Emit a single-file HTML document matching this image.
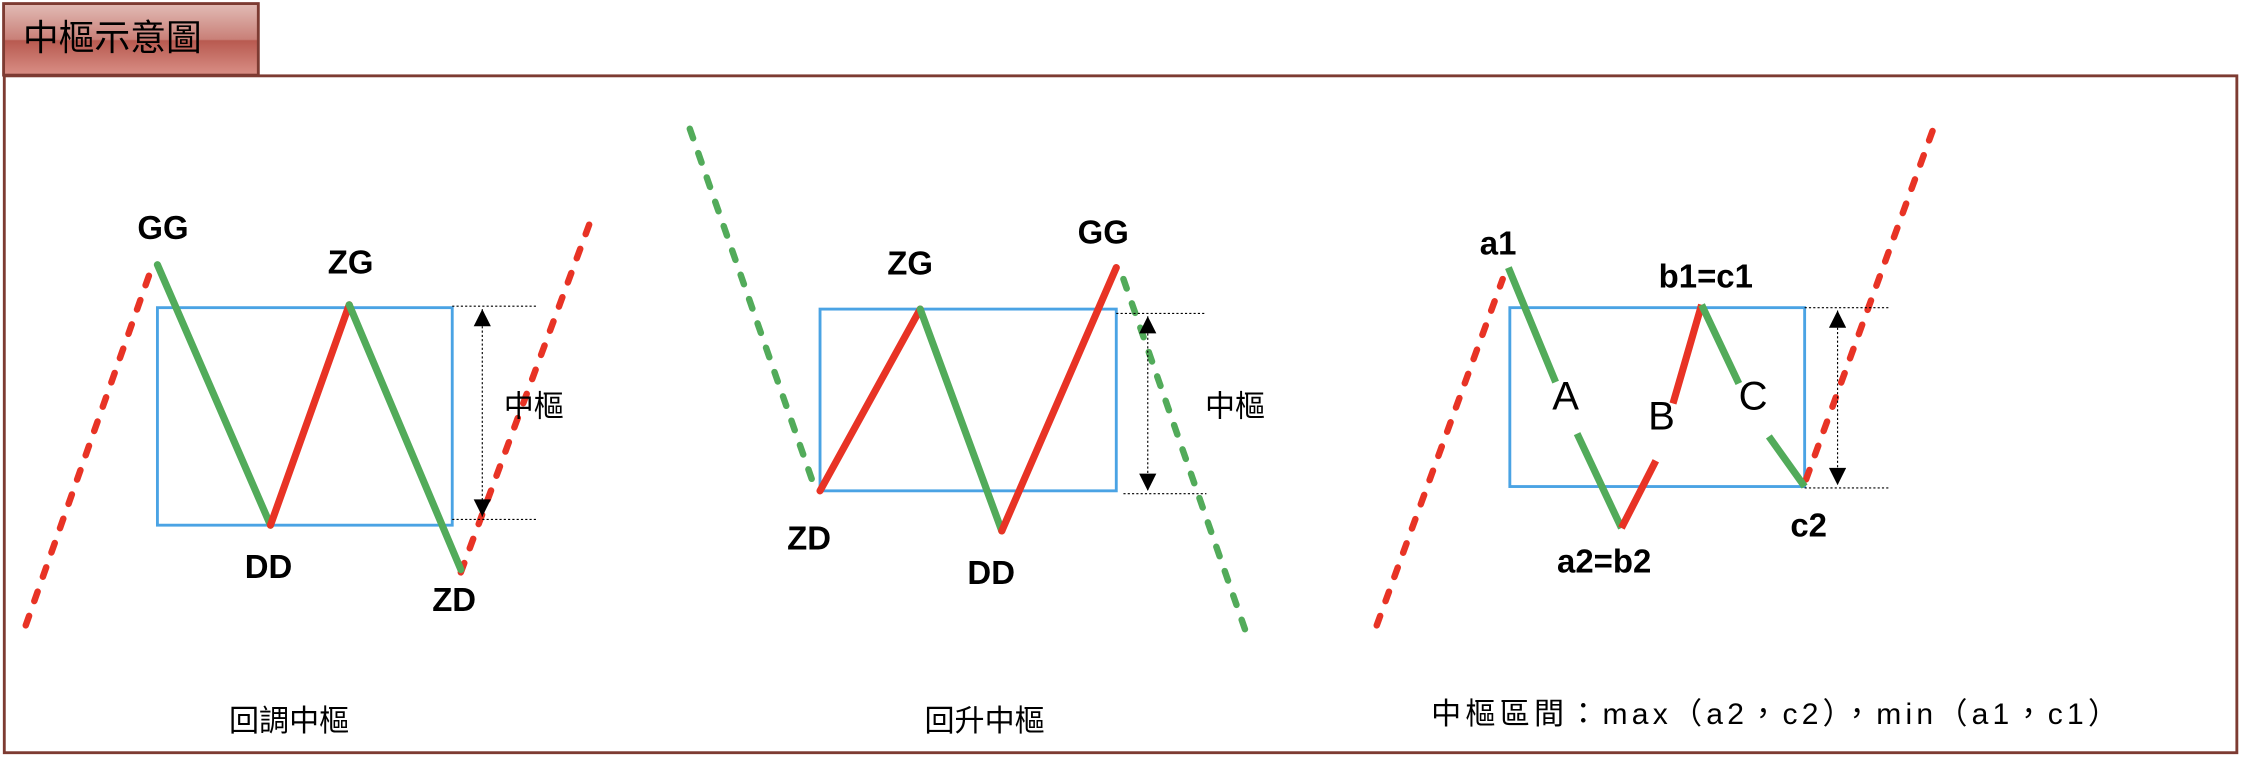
<!DOCTYPE html>
<html><head><meta charset="utf-8"><style>
html,body{margin:0;padding:0;background:#fff;width:2244px;height:758px;overflow:hidden}
svg{display:block}
.lb{font-family:"Liberation Sans",Arial,sans-serif;font-weight:bold;font-size:23px;fill:#000}
.cj{font-family:"Liberation Sans","Noto Sans CJK TC",sans-serif;font-size:21px;fill:#000}
.sl{font-family:"Liberation Sans",Arial,sans-serif;font-size:28px;fill:#000}
</style></head><body>
<svg width="2244" height="758" viewBox="0 0 1568 529.7" preserveAspectRatio="none">
<defs>
<linearGradient id="tg" x1="0" y1="0" x2="0" y2="1">
<stop offset="0" stop-color="#e2bcb6"/><stop offset="0.5" stop-color="#c98078"/><stop offset="0.52" stop-color="#b85a50"/><stop offset="1" stop-color="#d98f86"/>
</linearGradient>
<marker id="ah" viewBox="0 0 10 10" refX="10" refY="5" markerWidth="18" markerHeight="12" orient="auto-start-reverse" markerUnits="userSpaceOnUse"><path d="M0,0L10,5L0,10z" fill="#000"/></marker>
</defs>
<rect x="2.5" y="2.5" width="178" height="50" fill="url(#tg)" stroke="#7d3b32" stroke-width="2"/>
<text x="16" y="35" style="font-family:'Liberation Sans','Noto Sans CJK TC',sans-serif;font-size:25px" fill="#000">中樞示意圖</text>
<rect x="3" y="53" width="1560" height="473" fill="none" stroke="#7d3b32" stroke-width="2"/>

<g stroke-linecap="round" fill="none">
<rect x="110" y="215" width="206" height="152" stroke="#4aa3e4" stroke-width="2"/>
<line x1="18" y1="437" x2="105" y2="190" stroke="#e83325" stroke-width="4.5" stroke-dasharray="7 11"/>
<line x1="322" y1="400" x2="415" y2="148" stroke="#e83325" stroke-width="4.5" stroke-dasharray="7 11"/>
<line x1="110" y1="185" x2="189" y2="367" stroke="#52ab5a" stroke-width="5"/>
<line x1="189" y1="367" x2="244" y2="213" stroke="#e83325" stroke-width="5"/>
<line x1="244" y1="213" x2="322" y2="398" stroke="#52ab5a" stroke-width="5"/>

<rect x="573" y="216" width="207" height="127" stroke="#4aa3e4" stroke-width="2"/>
<line x1="482" y1="90" x2="568" y2="337" stroke="#52ab5a" stroke-width="4.5" stroke-dasharray="7 11"/>
<line x1="785" y1="195" x2="870" y2="440" stroke="#52ab5a" stroke-width="4.5" stroke-dasharray="7 11"/>
<line x1="573" y1="343" x2="643" y2="216" stroke="#e83325" stroke-width="5"/>
<line x1="643" y1="216" x2="700" y2="371" stroke="#52ab5a" stroke-width="5"/>
<line x1="700" y1="371" x2="780" y2="187" stroke="#e83325" stroke-width="5"/>

<rect x="1055" y="215" width="206" height="125" stroke="#4aa3e4" stroke-width="2"/>
<line x1="962" y1="437" x2="1050" y2="195" stroke="#e83325" stroke-width="4.5" stroke-dasharray="7 11"/>
<line x1="1262" y1="335" x2="1352" y2="87" stroke="#e83325" stroke-width="4.5" stroke-dasharray="7 11"/>
</g>
<g stroke-width="5" fill="none">
<line x1="1054" y1="187" x2="1087" y2="267" stroke="#52ab5a"/>
<line x1="1102" y1="303" x2="1133" y2="369" stroke="#52ab5a"/>
<line x1="1133" y1="369" x2="1157" y2="322" stroke="#e83325"/>
<line x1="1169" y1="282" x2="1189" y2="213" stroke="#e83325"/>
<line x1="1189" y1="213" x2="1215" y2="268" stroke="#52ab5a"/>
<line x1="1236" y1="305" x2="1261" y2="340" stroke="#52ab5a"/>
</g>
<g stroke="#000" stroke-width="0.8" stroke-dasharray="1.5 1.5" fill="none">
<line x1="316" y1="214" x2="376" y2="214"/>
<line x1="316" y1="363" x2="376" y2="363"/>
<line x1="337" y1="216" x2="337" y2="361" marker-start="url(#ah)" marker-end="url(#ah)"/>
<line x1="780" y1="219" x2="843" y2="219"/>
<line x1="785" y1="345" x2="843" y2="345"/>
<line x1="802" y1="221" x2="802" y2="343" marker-start="url(#ah)" marker-end="url(#ah)"/>
<line x1="1261" y1="215" x2="1320" y2="215"/>
<line x1="1261" y1="341" x2="1320" y2="341"/>
<line x1="1284" y1="217" x2="1284" y2="339" marker-start="url(#ah)" marker-end="url(#ah)"/>
</g>

<text class="lb" x="96" y="167">GG</text>
<text class="lb" x="229" y="191">ZG</text>
<text class="lb" x="171" y="404">DD</text>
<text class="lb" x="302" y="427">ZD</text>
<text class="cj" x="352" y="291">中樞</text>
<text class="cj" x="160" y="511">回調中樞</text>

<text class="lb" x="620" y="192">ZG</text>
<text class="lb" x="753" y="170">GG</text>
<text class="lb" x="550" y="384">ZD</text>
<text class="lb" x="676" y="408">DD</text>
<text class="cj" x="842" y="291">中樞</text>
<text class="cj" x="646" y="511">回升中樞</text>

<text class="lb" x="1034" y="178">a1</text>
<text class="lb" x="1159" y="201">b1=c1</text>
<text class="lb" x="1088" y="400">a2=b2</text>
<text class="lb" x="1251" y="375">c2</text>
<text class="sl" x="1094" y="286" text-anchor="middle">A</text>
<text class="sl" x="1161" y="300" text-anchor="middle">B</text>
<text class="sl" x="1225" y="286" text-anchor="middle">C</text>
<text class="cj" x="1000" y="506" textLength="480" lengthAdjust="spacing">中樞區間：max（a2，c2），min（a1，c1）</text>
</svg>
</body></html>
